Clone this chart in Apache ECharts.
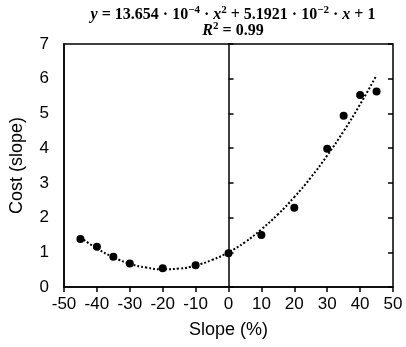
<!DOCTYPE html>
<html>
<head>
<meta charset="utf-8">
<script src="https://cdn.jsdelivr.net/npm/echarts@6/dist/echarts.min.js"></script>
<style>
  html, body { margin: 0; padding: 0; background: #fff; }
  #main { width: 406px; height: 347px; }
</style>
</head>
<body>
<div id="main"></div>
<script>
// measured points (slope %, cost)
var slopeX = [-45, -40, -35, -30, -20, -10, 0, 10, 20, 30, 35, 40, 45];
var costY = [1.38, 1.16, 0.87, 0.68, 0.54, 0.63, 0.97, 1.50, 2.28, 3.98, 4.93, 5.53, 5.63];

// dotted trend line, every 5 %
var trendX = [-45, -40, -35, -30, -25, -20, -15, -10, -5, 0, 5, 10, 15, 20, 25, 30, 35, 40, 45];
var trendY = [1.43, 1.11, 0.86, 0.67, 0.56, 0.51, 0.53, 0.62, 0.78, 1.0, 1.29, 1.66, 2.09, 2.59, 3.15, 3.79, 4.49, 5.26, 6.10];

var chartDom = document.getElementById('main');
var chart = echarts.init(chartDom);

var points = slopeX.map(function (x, i) { return [x, costY[i]]; });
var trend = trendX.map(function (x, i) { return [x, trendY[i]]; });

var axisFont = 'Liberation Sans, Arial, sans-serif';
var mathFont = 'Liberation Serif, serif';

var option = {
    animation: false,
    title: {
        left: 228,
        top: 2,
        textAlign: 'center',
        text: '{i|y} = 13.654 · 10{s|−4} · {i|x}{s|2} + 5.1921 · 10{s|−2} · {i|x} + 1\n{i|R}{s|2} = 0.99',
        textStyle: {
            fontFamily: mathFont,
            fontSize: 16,
            fontWeight: 'bold',
            color: '#000',
            lineHeight: 16,
            rich: {
                i: { fontFamily: mathFont, fontStyle: 'italic', fontWeight: 'bold', fontSize: 16, color: '#000', lineHeight: 16 },
                s: { fontFamily: mathFont, fontWeight: 'bold', fontSize: 11, color: '#000', lineHeight: 8, padding: [0, 0, 10, 0] }
            }
        }
    },
    grid: {
        left: 63,
        right: 13,
        top: 44,
        bottom: 60,
        show: true,
        borderColor: '#000',
        borderWidth: 1.5
    },
    xAxis: {
        type: 'value',
        min: -50,
        max: 50,
        interval: 10,
        name: 'Slope (%)',
        nameLocation: 'middle',
        nameGap: 34,
        nameTextStyle: { fontFamily: axisFont, fontSize: 18, color: '#000' },
        axisLine: { onZero: false, lineStyle: { color: '#000', width: 1.5 } },
        axisTick: { length: 5, lineStyle: { color: '#000', width: 1.5 } },
        axisLabel: { fontFamily: axisFont, fontSize: 17, color: '#000', margin: 9 },
        splitLine: { show: false }
    },
    yAxis: [
        {
            type: 'value',
            min: 0,
            max: 7,
            interval: 1,
            name: 'Cost (slope)',
            nameLocation: 'middle',
            nameGap: 38,
            nameTextStyle: { fontFamily: axisFont, fontSize: 18, color: '#000' },
            axisLine: { onZero: false, show: true, lineStyle: { color: '#000', width: 1.5 } },
            axisTick: { show: false },
            axisLabel: { fontFamily: axisFont, fontSize: 17, color: '#000', margin: 15 },
            splitLine: { show: false }
        },
        {
            type: 'value',
            min: 0,
            max: 7,
            interval: 1,
            axisLine: { onZero: true, show: true, lineStyle: { color: '#000', width: 1.5 } },
            axisTick: { show: true, length: 5, lineStyle: { color: '#000', width: 1.5 } },
            axisLabel: { show: false },
            splitLine: { show: false }
        },
        {
            type: 'value',
            min: 0,
            max: 7,
            interval: 1,
            axisLine: { onZero: true, show: false },
            axisTick: { show: true, inside: true, length: 5, lineStyle: { color: '#000', width: 1.5 } },
            axisLabel: { show: false },
            splitLine: { show: false }
        }
    ],
    series: [
        {
            name: 'trend',
            type: 'line',
            data: trend,
            smooth: true,
            showSymbol: false,
            silent: true,
            lineStyle: { color: '#000', width: 2, type: [2, 2] },
            z: 2
        },
        {
            name: 'cost',
            type: 'scatter',
            data: points,
            symbolSize: 8,
            itemStyle: { color: '#000', opacity: 1 },
            z: 3
        }
    ]
};

chart.setOption(option);
</script>
</body>
</html>
